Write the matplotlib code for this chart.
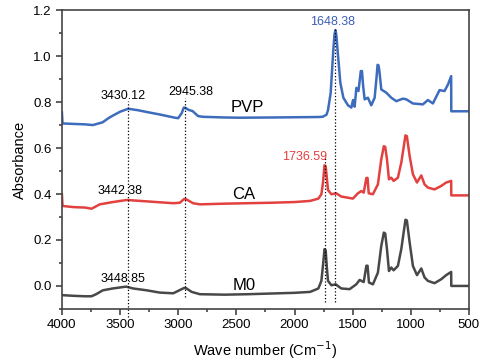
import matplotlib
matplotlib.use("Agg")
import matplotlib.pyplot as plt
from matplotlib.ticker import MultipleLocator, FormatStrFormatter

plt.rcParams['font.family'] = ['Liberation Sans', 'DejaVu Sans']

# FTIR spectra (wavenumber in cm-1, absorbance)
pvp_wn = [4000, 3995, 3900, 3800, 3734, 3650, 3600, 3559, 3500, 3430, 3350, 3272,
          3158, 3029, 3000, 2970, 2952, 2940, 2910, 2877, 2829, 2789, 2600, 2471,
          2200, 2000, 1800, 1758, 1725, 1712, 1689, 1666, 1656, 1648, 1640, 1628,
          1606, 1580, 1540, 1511, 1497, 1483, 1468, 1450, 1430, 1420, 1410, 1397,
          1369, 1340, 1311, 1295, 1286, 1278, 1270, 1254, 1211, 1168, 1125, 1068,
          1039, 982, 896, 853, 810, 753, 710, 680, 653, 652, 500]
pvp_ab = [0.755, 0.707, 0.705, 0.703, 0.700, 0.712, 0.730, 0.742, 0.758, 0.771,
          0.765, 0.757, 0.746, 0.732, 0.730, 0.752, 0.776, 0.775, 0.766, 0.761,
          0.739, 0.736, 0.733, 0.732, 0.733, 0.734, 0.735, 0.736, 0.745, 0.765,
          0.840, 1.030, 1.095, 1.113, 1.090, 1.015, 0.884, 0.819, 0.786, 0.776,
          0.809, 0.780, 0.862, 0.848, 0.935, 0.935, 0.870, 0.812, 0.819, 0.786,
          0.819, 0.906, 0.962, 0.960, 0.935, 0.855, 0.841, 0.819, 0.804, 0.815,
          0.812, 0.794, 0.790, 0.809, 0.794, 0.852, 0.848, 0.877, 0.913, 0.760,
          0.760]

ca_wn = [4000, 3995, 3900, 3800, 3745, 3674, 3562, 3442, 3272, 3043, 2986, 2950,
         2935, 2872, 2814, 2600, 2400, 2200, 2000, 1866, 1795, 1769, 1755, 1742,
         1732, 1722, 1712, 1683, 1641, 1598, 1498, 1455, 1425, 1405, 1382, 1372,
         1362, 1326, 1283, 1254, 1232, 1220, 1205, 1188, 1168, 1148, 1111, 1082,
         1046, 1034, 1010, 982, 947, 910, 882, 853, 796, 739, 696, 653, 652, 500]
ca_ab = [0.398, 0.348, 0.343, 0.341, 0.336, 0.355, 0.365, 0.374, 0.368, 0.360,
         0.362, 0.378, 0.378, 0.360, 0.355, 0.358, 0.360, 0.362, 0.365, 0.370,
         0.380, 0.399, 0.450, 0.525, 0.520, 0.470, 0.417, 0.399, 0.403, 0.389,
         0.380, 0.403, 0.413, 0.406, 0.470, 0.470, 0.403, 0.399, 0.442, 0.551,
         0.608, 0.605, 0.551, 0.464, 0.471, 0.457, 0.471, 0.536, 0.655, 0.652,
         0.565, 0.486, 0.450, 0.481, 0.442, 0.428, 0.420, 0.435, 0.450, 0.457,
         0.394, 0.394]

m0_wn = [4000, 3900, 3800, 3745, 3706, 3648, 3562, 3448, 3388, 3272, 3158, 3043,
         2950, 2935, 2884, 2814, 2600, 2400, 2200, 2000, 1866, 1795, 1769, 1755,
         1742, 1732, 1722, 1712, 1683, 1646, 1598, 1526, 1469, 1440, 1405, 1382,
         1372, 1360, 1326, 1283, 1254, 1232, 1220, 1205, 1188, 1168, 1148, 1111,
         1082, 1046, 1034, 1010, 982, 947, 910, 882, 853, 796, 739, 696, 653,
         652, 500]
m0_ab = [-0.040, -0.043, -0.045, -0.045, -0.036, -0.019, -0.011, -0.003, -0.011,
         -0.019, -0.029, -0.032, -0.009, -0.009, -0.026, -0.036, -0.038, -0.036,
         -0.033, -0.030, -0.026, -0.011, 0.022, 0.090, 0.160, 0.155, 0.080,
         0.022, 0.003, 0.007, -0.011, -0.014, 0.007, 0.026, 0.017, 0.088, 0.088,
         0.015, 0.007, 0.058, 0.174, 0.232, 0.228, 0.160, 0.065, 0.080, 0.068,
         0.087, 0.160, 0.288, 0.285, 0.189, 0.087, 0.047, 0.076, 0.037, 0.022,
         0.012, 0.029, 0.047, 0.061, 0.000, 0.000]

# peak markers: position, top and bottom of the dotted guide
guide_wn = [3430.12, 2945.38, 1736.59, 1648.38]
guide_top = [0.804, 0.819, 0.559, 1.116]
guide_bot = [-0.137, -0.049, -0.071, -0.071]

fig = plt.figure(figsize=(4.8, 3.63), dpi=100)
ax = fig.add_axes([0.129, 0.149, 0.848, 0.823])

ax.plot(pvp_wn, pvp_ab, color='#3d6cbd', lw=1.8, solid_joinstyle='round')
ax.plot(ca_wn, ca_ab, color='#e3413f', lw=1.8, solid_joinstyle='round')
ax.plot(m0_wn, m0_ab, color='#484848', lw=1.8, solid_joinstyle='round')

for w, t, b in zip(guide_wn, guide_top, guide_bot):
    ax.plot([w, w], [b, t], color='black', ls=':', lw=0.9, clip_on=False)

fs = 9
ax.text(3476, 0.826, '3430.12', ha='center', va='center', fontsize=fs)
ax.text(2892, 0.843, '2945.38', ha='center', va='center', fontsize=fs)
ax.text(1672, 1.148, '1648.38', ha='center', va='center', fontsize=fs, color='#3f5fb5')
ax.text(1912, 0.561, '1736.59', ha='center', va='center', fontsize=fs, color='#e3413f')
ax.text(3502, 0.413, '3442.38', ha='center', va='center', fontsize=fs)
ax.text(3473, 0.029, '3448.85', ha='center', va='center', fontsize=fs)

ax.text(2402, 0.777, 'PVP', ha='center', va='center', fontsize=12)
ax.text(2436, 0.399, 'CA', ha='center', va='center', fontsize=12)
ax.text(2436, 0.000, 'M0', ha='center', va='center', fontsize=12)

ax.set_xlim(4000, 500)
ax.set_ylim(-0.1, 1.2)
ax.xaxis.set_major_locator(MultipleLocator(500))
ax.xaxis.set_minor_locator(MultipleLocator(250))
ax.yaxis.set_major_locator(MultipleLocator(0.2))
ax.yaxis.set_minor_locator(MultipleLocator(0.1))
ax.yaxis.set_major_formatter(FormatStrFormatter('%.1f'))

ax.tick_params(which='both', direction='out', colors='#444444', labelcolor='black',
               labelsize=9.5, width=1.2, top=False, right=False)
ax.tick_params(which='major', length=4)
ax.tick_params(which='minor', length=2.5)
for s in ax.spines.values():
    s.set_color('#444444')
    s.set_linewidth(1.2)

ax.set_xlabel('Wave number (Cm$^{-1}$)', fontsize=10.5, labelpad=6)
ax.set_ylabel('Absorbance', fontsize=10.5, labelpad=4)

fig.savefig('out.png', dpi=100)
